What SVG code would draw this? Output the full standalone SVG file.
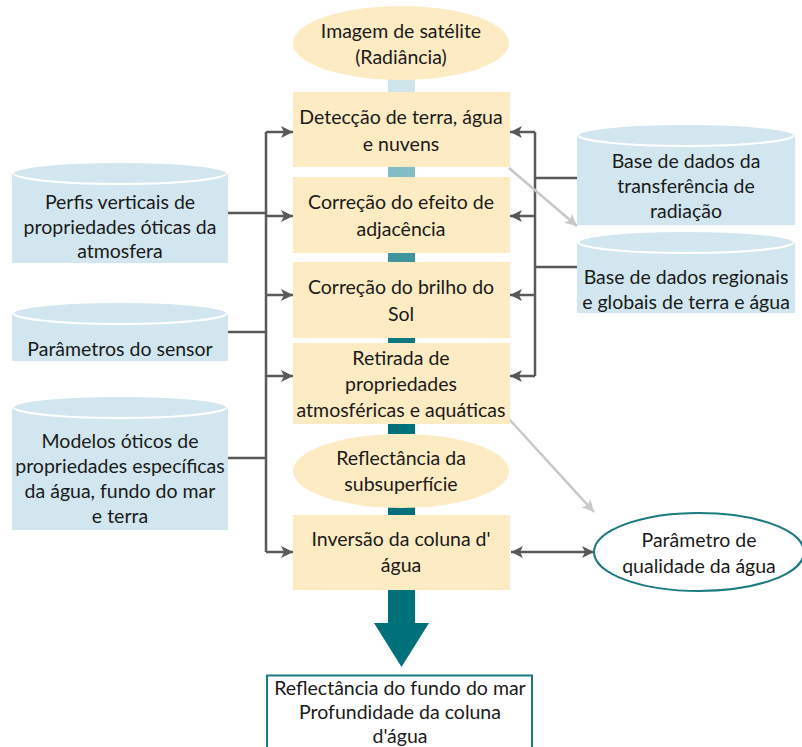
<svg xmlns="http://www.w3.org/2000/svg" width="802" height="747" viewBox="0 0 802 747">
<defs>
<marker id="ah" viewBox="0 0 10 10" refX="10" refY="5" markerWidth="14" markerHeight="12" markerUnits="userSpaceOnUse" orient="auto-start-reverse">
<path d="M0,0 L10,5 L0,10 L2.5,5 Z" fill="#595959"/>
</marker>
<marker id="ahg" viewBox="0 0 10 10" refX="10" refY="5" markerWidth="14" markerHeight="12" markerUnits="userSpaceOnUse" orient="auto">
<path d="M0,0 L10,5 L0,10 L2.5,5 Z" fill="#c8c8c8"/>
</marker>
<style>
text{font-family:Lato,"Open Sans","Liberation Sans",sans-serif;font-size:19.5px;fill:#1a1a1a;text-anchor:middle}
.box{fill:#fdebc3}
.cyl{fill:#d1e6ee}
.cyltop{fill:#d1e6ee;stroke:#ffffff;stroke-width:2}
.ln{fill:none;stroke:#595959;stroke-width:2.5}
.gl{fill:none;stroke:#c8c8c8;stroke-width:2.5}
</style>
</defs>

<g id="flow-bars">
<rect x="388" y="78" width="27" height="14" fill="#cfe4eb"/>
<rect x="388" y="167" width="27" height="10" fill="#82bcc4"/>
<rect x="388" y="253" width="27" height="9" fill="#3f959d"/>
<rect x="388" y="338" width="27" height="5" fill="#0e7780"/>
<rect x="388" y="424" width="27" height="10" fill="#00707a"/>
<rect x="388" y="506" width="27" height="10" fill="#00707a"/>
</g>

<g id="connectors">
<path class="ln" d="M228,213 H266 M228,332 H266 M228,458 H266"/>
<path class="ln" d="M266,132 V552"/>
<path class="ln" marker-end="url(#ah)" d="M266,132 H293"/>
<path class="ln" marker-end="url(#ah)" d="M266,216 H293"/>
<path class="ln" marker-end="url(#ah)" d="M266,295 H293"/>
<path class="ln" marker-end="url(#ah)" d="M266,376 H293"/>
<path class="ln" marker-end="url(#ah)" d="M266,552 H293"/>
<path class="ln" d="M577,178 H535 M577,267 H535"/>
<path class="ln" d="M535,132 V376"/>
<path class="ln" marker-end="url(#ah)" d="M535,132 H510"/>
<path class="ln" marker-end="url(#ah)" d="M535,216 H510"/>
<path class="ln" marker-end="url(#ah)" d="M535,295 H510"/>
<path class="ln" marker-end="url(#ah)" d="M535,376 H510"/>
<path class="ln" marker-start="url(#ah)" marker-end="url(#ah)" d="M511,552 H594"/>
<path class="gl" marker-end="url(#ahg)" d="M509,168 L577,226"/>
<path class="gl" marker-end="url(#ahg)" d="M509,419 L594,512"/>
<path d="M388,590 H415 V623 H429 L401.5,667 L374,623 H388 Z" fill="#00707a"/>
</g>

<g id="satellite">
<ellipse cx="401" cy="43" rx="108" ry="37" class="box"/>
<text x="401" y="38">Imagem de satélite</text>
<text x="401" y="64">(Radiância)</text>
</g>

<g id="deteccao">
<rect x="293" y="92" width="217" height="75" class="box"/>
<text x="401" y="124">Detecção de terra, água</text>
<text x="401" y="151">e nuvens</text>
</g>

<g id="adjacencia">
<rect x="293" y="177" width="217" height="76" class="box"/>
<text x="401" y="209">Correção do efeito de</text>
<text x="401" y="236">adjacência</text>
</g>

<g id="brilho">
<rect x="293" y="262" width="217" height="76" class="box"/>
<text x="401" y="294">Correção do brilho do</text>
<text x="401" y="321">Sol</text>
</g>

<g id="retirada">
<rect x="293" y="343" width="217" height="81" class="box"/>
<text x="401" y="365">Retirada de</text>
<text x="401" y="391">propriedades</text>
<text x="401" y="417">atmosféricas e aquáticas</text>
</g>

<g id="subsuperficie">
<ellipse cx="401" cy="471" rx="108" ry="37" class="box"/>
<text x="401" y="465">Reflectância da</text>
<text x="401" y="491">subsuperfície</text>
</g>

<g id="inversao">
<rect x="293" y="515" width="217" height="75" class="box"/>
<text x="401" y="546">Inversão da coluna d'</text>
<text x="401" y="572">água</text>
</g>

<g id="resultado">
<rect x="267" y="675.5" width="265" height="80" fill="#ffffff" stroke="#1b7a80" stroke-width="2"/>
<text x="400" y="695">Reflectância do fundo do mar</text>
<text x="400" y="719">Profundidade da coluna</text>
<text x="400" y="743">d'água</text>
</g>

<g id="perfis">
<rect x="12" y="173" width="216" height="90" class="cyl"/>
<ellipse cx="120" cy="173" rx="107" ry="11" class="cyltop"/>
<text x="120" y="209">Perfis verticais de</text>
<text x="120" y="234">propriedades óticas da</text>
<text x="120" y="258">atmosfera</text>
</g>

<g id="sensor">
<rect x="12" y="313" width="216" height="48" class="cyl"/>
<ellipse cx="120" cy="313" rx="107" ry="11" class="cyltop"/>
<text x="120" y="356">Parâmetros do sensor</text>
</g>

<g id="modelos">
<rect x="12" y="407" width="216" height="123" class="cyl"/>
<ellipse cx="120" cy="407" rx="107" ry="11" class="cyltop"/>
<text x="120" y="448">Modelos óticos de</text>
<text x="120" y="473">propriedades específicas</text>
<text x="120" y="498">da água, fundo do mar</text>
<text x="120" y="523">e terra</text>
</g>

<g id="transferencia">
<rect x="577" y="135" width="218" height="90" class="cyl"/>
<ellipse cx="686" cy="135" rx="108" ry="11" class="cyltop"/>
<text x="686" y="168">Base de dados da</text>
<text x="686" y="193">transferência de</text>
<text x="686" y="218">radiação</text>
</g>

<g id="regionais">
<rect x="577" y="242" width="218" height="71" class="cyl"/>
<ellipse cx="686" cy="242" rx="108" ry="11" class="cyltop"/>
<text x="686" y="284">Base de dados regionais</text>
<text x="686" y="309">e globais de terra e água</text>
</g>

<g id="parametro">
<ellipse cx="699" cy="552" rx="105" ry="39" fill="#ffffff" stroke="#1b7a80" stroke-width="2"/>
<text x="699" y="547">Parâmetro de</text>
<text x="699" y="573">qualidade da água</text>
</g>
</svg>
